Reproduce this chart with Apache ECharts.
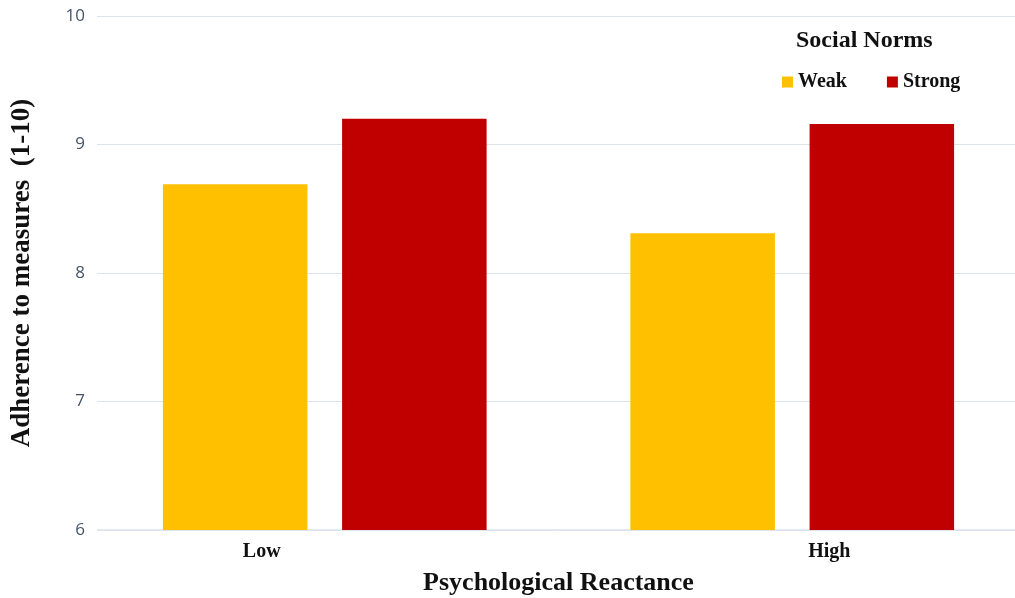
<!DOCTYPE html>
<html>
<head>
<meta charset="utf-8">
<script src="https://cdn.jsdelivr.net/npm/echarts@6/dist/echarts.min.js"></script>
<style>
  html, body { margin: 0; padding: 0; background: #ffffff; }
  #chart { width: 1015px; height: 598px; }
</style>
</head>
<body>
<div id="chart"></div>
<script>
// Adherence by psychological reactance and strength of social norms
const categories = ['Low', 'High'];
const weakValues = [8.69, 8.31];
const strongValues = [9.2, 9.16];
const seriesNames = ['Weak', 'Strong'];
const legendTitle = 'Social Norms';
const xTitle = 'Psychological Reactance';
const yTitle = 'Adherence to measures  (1-10)';

const serif = '"Liberation Serif", "Times New Roman", serif';
const gridColor = '#dde3ec';

const chart = echarts.init(document.getElementById('chart'));
chart.setOption({
  animation: false,
  backgroundColor: '#ffffff',
  title: {
    text: legendTitle,
    left: 791,
    top: 24,
    textStyle: { fontFamily: serif, fontWeight: 'bold', fontSize: 24, color: '#111111' }
  },
  legend: {
    data: seriesNames,
    left: 777,
    top: 67,
    icon: 'rect',
    itemWidth: 11,
    itemHeight: 11,
    itemGap: 40,
    textStyle: { fontFamily: serif, fontWeight: 'bold', fontSize: 20, color: '#111111' }
  },
  grid: { left: 91, top: 16, width: 935, height: 514, containLabel: false, outerBoundsMode: 'none' },
  xAxis: {
    type: 'category',
    data: categories,
    name: xTitle,
    nameLocation: 'middle',
    nameGap: 40,
    nameTextStyle: { fontFamily: serif, fontWeight: 'bold', fontSize: 26, color: '#111111' },
    axisLine: { show: true, lineStyle: { color: gridColor, width: 1.5 } },
    axisTick: { show: false },
    axisLabel: {
      margin: 12,
      formatter: function (v) { return v === 'Low' ? '{l|' + v + '}' : '{h|' + v + '}'; },
      rich: {
        l: { fontFamily: serif, fontWeight: 'bold', fontSize: 20, color: '#111111', padding: [0, 126, 0, 0] },
        h: { fontFamily: serif, fontWeight: 'bold', fontSize: 20, color: '#111111', padding: [0, 0, 0, 74] }
      }
    }
  },
  yAxis: {
    type: 'value',
    min: 6,
    max: 10,
    interval: 1,
    name: yTitle,
    nameLocation: 'middle',
    nameGap: 55,
    nameTextStyle: { fontFamily: serif, fontWeight: 'bold', fontSize: 27, color: '#111111' },
    axisLine: { show: false },
    axisTick: { show: false },
    axisLabel: {
      margin: -6,
      fontFamily: '"Open Sans", "Noto Sans", sans-serif',
      fontSize: 17,
      color: '#44546a',
      backgroundColor: '#ffffff',
      padding: [0, 12, 0, 0]
    },
    splitLine: { show: true, lineStyle: { color: gridColor, width: 1 } }
  },
  series: [
    {
      name: seriesNames[0],
      type: 'bar',
      data: weakValues,
      barWidth: 144.5,
      barGap: '24%',
      itemStyle: { color: '#ffc000' }
    },
    {
      name: seriesNames[1],
      type: 'bar',
      data: strongValues,
      barWidth: 144.5,
      barGap: '24%',
      itemStyle: { color: '#c00000' }
    }
  ]
});
</script>
</body>
</html>
